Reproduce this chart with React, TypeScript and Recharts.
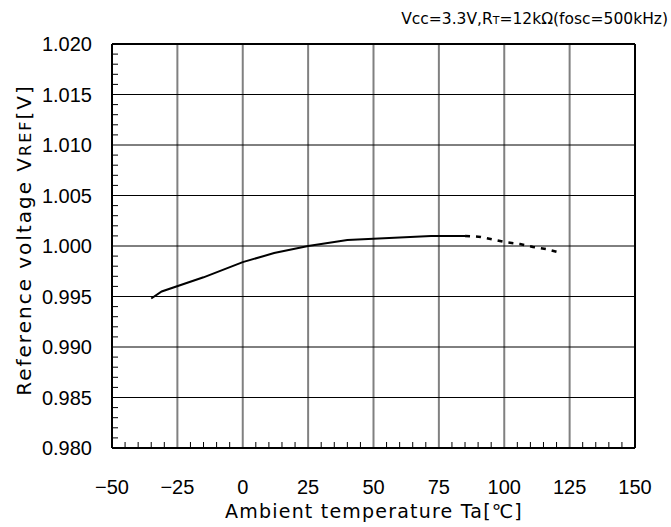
import React from 'react';
import { LineChart, Line, XAxis, YAxis, CartesianGrid, ReferenceLine, Customized } from 'recharts';

const xTicks = [-50, -25, 0, 25, 50, 75, 100, 125, 150];
const xMinorTicks = [-45, -40, -35, -30, -20, -15, -10, -5, 5, 10, 15, 20, 30, 35, 40, 45, 55, 60, 65, 70, 80, 85, 90, 95, 105, 110, 115, 120, 130, 135, 140, 145];
const yTicks = [0.98, 0.985, 0.99, 0.995, 1.0, 1.005, 1.01, 1.015, 1.02];
const yMinorTicks = [0.981, 0.982, 0.983, 0.984, 0.986, 0.987, 0.988, 0.989, 0.991, 0.992, 0.993, 0.994, 0.996, 0.997, 0.998, 0.999, 1.001, 1.002, 1.003, 1.004, 1.006, 1.007, 1.008, 1.009, 1.011, 1.012, 1.013, 1.014, 1.016, 1.017, 1.018, 1.019];

const solidTemp = [-35, -31, -15, 0, 12, 25, 40, 56, 72, 85];
const solidVolt = [0.9948, 0.9955, 0.9969, 0.9984, 0.9993, 1.0, 1.0006, 1.0008, 1.001, 1.001];
const dashTemp = [85, 91, 100, 106, 111, 116, 122];
const dashVolt = [1.001, 1.0009, 1.0004, 1.0002, 0.9999, 0.9997, 0.9993];

const FONT = '"Liberation Sans", Arial, sans-serif';
const LFONT = '"DejaVu Sans", sans-serif';

const fmtX = (v: number) => (v < 0 ? '\u2212' + Math.abs(v) : String(v));
const fmtY = (v: number) => v.toFixed(3);

const X_MARGIN = 32;
const Y_MARGIN = 20;
const MINOR_LEN = 6;

const isMajor = (list: number[], v: number) => list.some((m) => Math.abs(m - v) < 1e-9);

const XTick = (props: any) => {
  const { x, y, payload } = props;
  const v = payload.value;
  if (isMajor(xTicks, v)) {
    return (
      <text x={x} y={y} dy="0.71em" textAnchor="middle" fontSize={20} fontFamily={FONT} fill="#000">
        {fmtX(v)}
      </text>
    );
  }
  const ay = y - X_MARGIN;
  return <line x1={x} y1={ay} x2={x} y2={ay - MINOR_LEN} stroke="#000" strokeWidth={1} />;
};

const YTick = (props: any) => {
  const { x, y, payload } = props;
  const v = payload.value;
  if (isMajor(yTicks, v)) {
    return (
      <text x={x} y={y} dy="0.355em" textAnchor="end" fontSize={20} fontFamily={FONT} fill="#000">
        {fmtY(v)}
      </text>
    );
  }
  const ax = x + Y_MARGIN;
  return <line x1={ax} y1={y} x2={ax + MINOR_LEN} y2={y} stroke="#000" strokeWidth={1} />;
};

const Texts = () => (
  <g fontFamily={LFONT} fill="#000">
    <text x={668} y={24} textAnchor="end" fontSize={15.5}>
      Vcc=3.3V,R<tspan fontSize={11}>T</tspan><tspan fontSize={15.5}>=12kΩ(fosc=500kHz)</tspan>
    </text>
    <text x={374} y={518} textAnchor="middle" fontSize={19} letterSpacing={1.2}>
      Ambient temperature Ta[℃]
    </text>
    <text x={0} y={0} transform="translate(31,240) rotate(-90)" textAnchor="middle" fontSize={20} letterSpacing={2}>
      Reference voltage V<tspan fontSize={16}>REF</tspan><tspan fontSize={20}>[V]</tspan>
    </text>
  </g>
);

export default function App() {
  const solid = solidTemp.map((t, i) => ({ t, v: solidVolt[i] }));
  const dashed = dashTemp.map((t, i) => ({ t, v: dashVolt[i] }));
  const xAll = [...xTicks, ...xMinorTicks].sort((a, b) => a - b);
  const yAll = [...yTicks, ...yMinorTicks].sort((a, b) => a - b);
  return (
    <div style={{ position: 'absolute', left: 0, top: 0 }}>
      <LineChart width={671} height={527} margin={{ top: 44, right: 36, bottom: 0, left: 0 }}>
        <XAxis type="number" dataKey="t" domain={[-50, 150]} ticks={xAll} interval={0}
          tickLine={false} tickSize={0} tickMargin={X_MARGIN} height={79} axisLine={{ stroke: '#000', strokeWidth: 2 }}
          tick={<XTick />} allowDataOverflow />
        <YAxis type="number" dataKey="v" domain={[0.98, 1.02]} ticks={yAll} interval={0}
          tickLine={false} tickSize={0} tickMargin={Y_MARGIN} width={112} axisLine={{ stroke: '#000', strokeWidth: 2 }}
          tick={<YTick />} allowDataOverflow />
        <CartesianGrid horizontal={false} stroke="#808080" strokeWidth={2} verticalValues={xTicks} />
        <CartesianGrid vertical={false} stroke="#000" strokeWidth={1} horizontalValues={yTicks} />
        <ReferenceLine x={150} stroke="#000" strokeWidth={2} />
        <ReferenceLine y={1.02} stroke="#000" strokeWidth={2} />
        <Line data={solid} dataKey="v" type="linear" stroke="#000" strokeWidth={2} dot={false} isAnimationActive={false} />
        <Line data={dashed} dataKey="v" type="linear" stroke="#000" strokeWidth={2.5} strokeDasharray="5 6" dot={false} isAnimationActive={false} />
        <Customized component={Texts} />
      </LineChart>
    </div>
  );
}
